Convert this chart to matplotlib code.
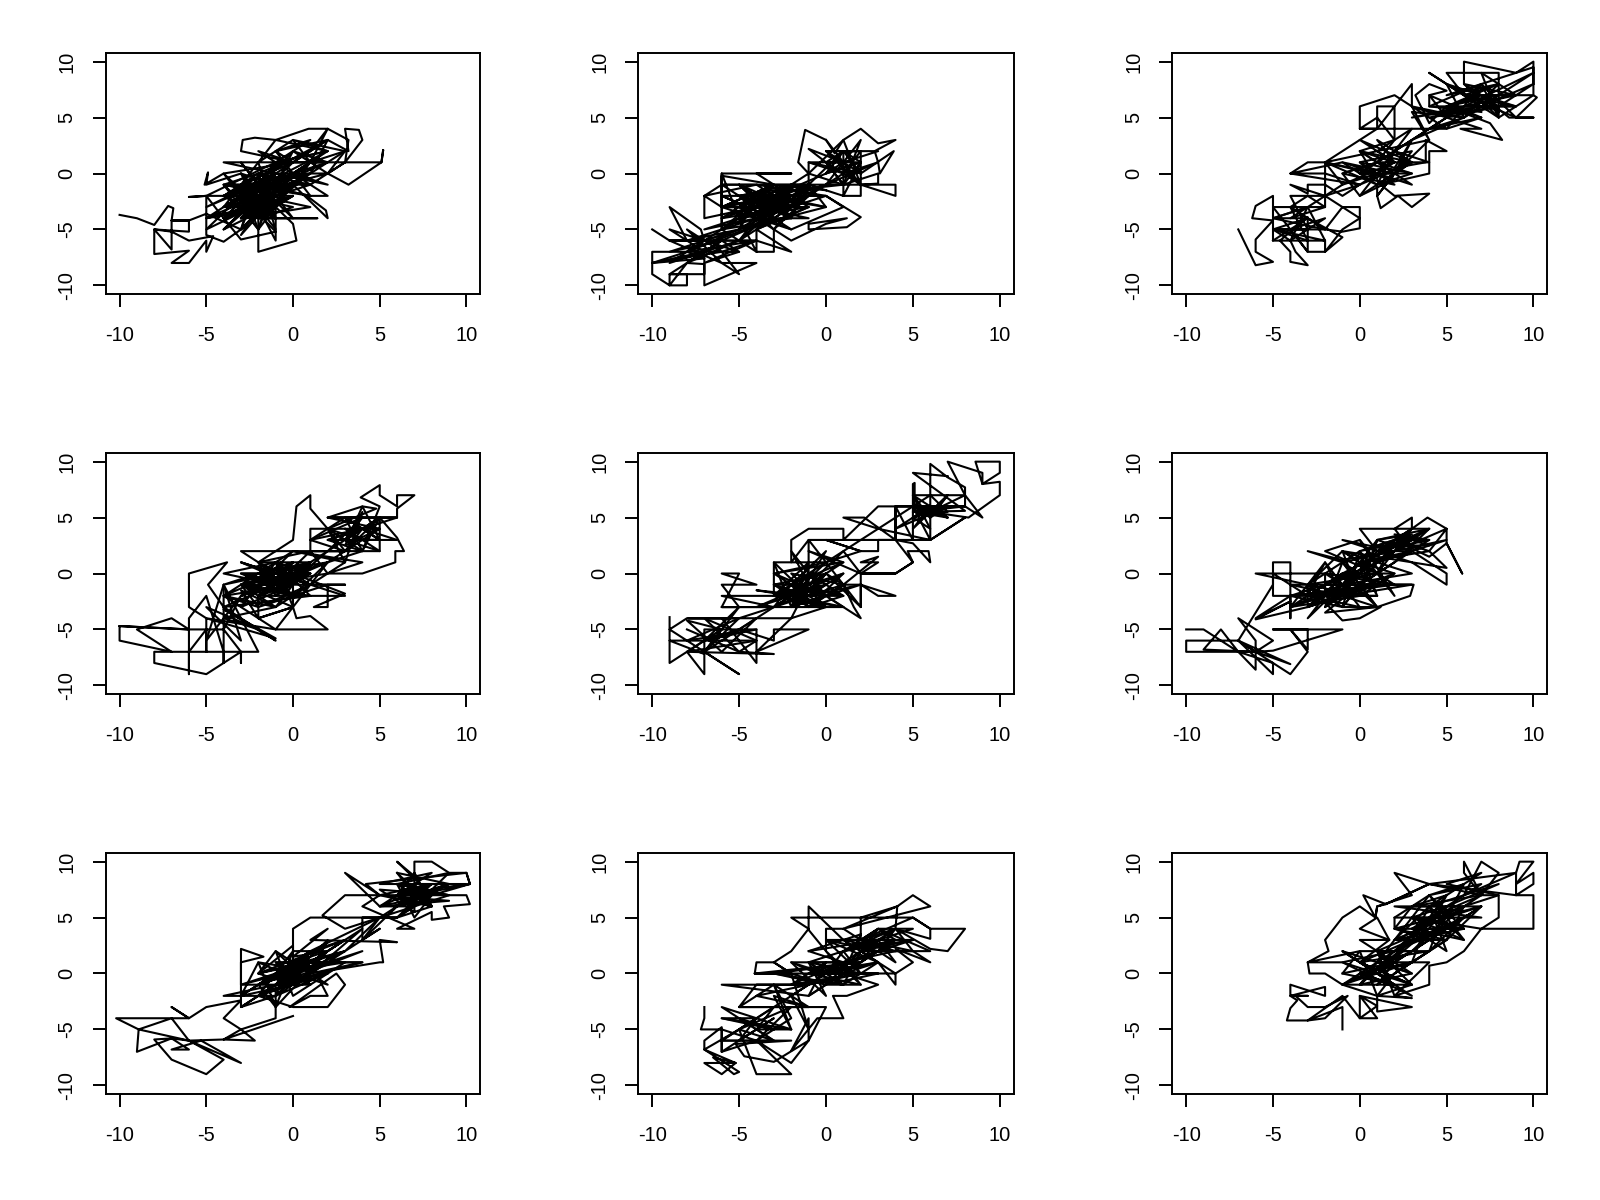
import matplotlib
matplotlib.use('Agg')
import matplotlib.pyplot as plt

plt.rcParams['font.family'] = ['Liberation Sans', 'DejaVu Sans']
plt.rcParams['axes.unicode_minus'] = False

# paths, one (x, y) list per panel
path_1 = [(-10,-3.7),(-9,-4),(-8,-4.6),(-7.2,-2.9),(-6.9,-3.1),(-7,-4.2),(-7,-6.8),(-8,-5),(-8,-7.2),(-6,-6.9),(-7,-8),(-6,-8),(-5,-6),(-5,-7),(-4.6,-5.6),(-6,-6),(-7,-5.2),(-8,-5),(-6,-5.2),(-6,-4.2),(-7,-4.2),(-6,-4.2),(-5,-3.6),(-3,-5),(-4,-6.1),(-5,-5.5),(-5,-2),(-6,-2.1),(-5,-2),(-4,-4),(-2,-1),(-4,-3),(-1,-2),(-3,-5),(-2,0),(-4,-1),(0,-1),(-2,-4),(-3,-1),(-1,-4),(-4,-2),(1,0),(-3,-3),(-2,-5),(-1,-1),(-3,0),(-5,-1),(-4.9,0.1),(-5.1,-1),(-4,0),(-2,-3),(0,0),(-3,-2),(-1,-5.2),(-3,-5.9),(-4,-4),(-2,-2),(0,-2),(-3,-4),(-1,0),(-4,1),(5.1,1),(5.2,2.1),(5.1,1),(3.2,-1),(2,0),(3,1),(1,-1),(2,-2),(0.8,-2),(1.9,-3.3),(2,-4),(0,-1),(-2,-4),(1.4,-4),(-2,-4),(-2,-7),(0.2,-6),(0,-4.5),(-1,-3),(-1,-6),(-2,-3),(-3,-5.5),(-1,-2),(0,-4),(-2,-1),(1,-2),(-3,-1),(0,1),(-2,-2),(1,1),(-1,-1),(-3,-2),(2,0),(-2,0),(1,-1),(-2,2),(0,1),(-3,2),(-2.9,3),(-2.2,3.2),(-1,3),(0.9,4),(2,4),(3.2,3),(3,1),(4,3),(3.8,3.9),(3,4),(3.2,2),(2,3),(1,2),(2,4),(1,1),(3,2),(2,0),(0,2),(2,1),(-1,1),(2,2),(-1,3),(-2,1),(0,3),(1,1),(0,0),(2,-1),(-1,0),(-2,-2),(-3,0),(-1,-3),(-3,-3),(0,-1),(-4,-2),(-2,-4),(-1,-2),(-3,-4)]
tangle_1 = [(-4,-2),(-1,-1),(-3,-4),(0,-2),(-4,-5),(-2,-2),(-5,-4),(-1,-3),(-3,-1),(-2,-5),(-4,-1),(1,-1),(-3,-3),(-1,0),(-5,-3),(-2,-1),(-3,-5),(0,0),(-4,-3),(-2,1),(-1,-4),(-3,0),(-2,-3),(1,1),(-4,-4),(-1,-2),(-5,-5),(-3,-2),(0,-3),(-2,-4),(-4,0),(0,1),(-3,-1),(-1,-5),(-2,0),(-4,-2),(2,1),(-1,-1),(-3,-4),(1,-3),(-2,-2),(-5,-2),(-1,1),(-3,-3),(0,-1),(-4,-4),(-2,-3),(1,0),(-3,-5),(-1,-2),(-4,-1),(-2,-4),(0,-2),(-5,-4),(-2,-1),(-3,1),(-1,-3),(-4,-3),(1,2),(-2,0),(-1,-4),(-3,-2),(2,2),(0,0),(-2,-2),(-4,-5),(-1,-1),(0,2),(-3,-3),(1,1),(-2,-5),(-1,0),(-4,-2),(2,3),(0,1),(-1,2),(1,3),(-1,1),(2,2),(0,3),(3,2),(1,0),(2,3),(-1,2),(1,-2),(-2,-1),(-4,-4)]

path_2 = [(-10,-5),(-9,-6),(-8,-6),(-9,-3),(-7.2,-5),(-7,-6),(-9,-6),(-4,-6),(-8,-7),(-10,-7),(-10,-8),(-8,-7),(-7,-7.6),(-10,-8),(-10,-9),(-9,-10),(-8,-10),(-8,-9),(-9,-9),(-9,-10),(-8,-8),(-7,-8.1),(-7,-9),(-9,-9),(-7,-7),(-7,-10),(-4,-8),(-6,-8),(-5,-9),(-6,-7),(-4,-6),(-2,-7),(-4,-5),(-4,-7),(-3,-7),(-3,-5),(-2,-6),(0,-4.5),(1.2,-4),(-1,-4.5),(-1,-5),(1.2,-4.8),(2,-3.9),(0,-2),(1,-3),(-2,-5),(-5,-3),(-3,-1),(-6,-5),(-2,-2),(-5,-6),(-3,-2),(-6,-3),(-1,-3),(-4,-5),(-2,-1),(-5,-2),(-3,-5),(-1,-1),(-6,-4),(0,-1),(-4,-3),(-7,-4),(-7,-2),(-6,-1),(-4,-1),(-7,-2),(-6,-3),(-3,-3),(-5,-1),(-2,-4),(-4,-2),(0,-3),(-5,-5),(-1,-2),(-5,-4),(-6,0),(-6,-5),(-6,0),(-4,0),(-2,0),(-4,0),(-3,-1),(-6,-0.2),(-6,-3),(-2,-3),(-4,-4),(0,-2),(-5,-2),(1,-1),(-2,-1),(-4,-3),(-1,-4),(-3,-4),(-6,-6),(-8,-8),(-6,-6),(-5,-7),(-7,-6),(-5,-5),(-8,-7),(-6,-5),(-4,-7),(-5,-4),(-3,-2),(-1,0),(-1.6,1),(-1.2,3.9),(0,3),(0.5,1.8),(1,3),(2,4),(3,2.7),(4,3),(2.8,2),(3,1),(3.1,0),(3.9,2),(2,0),(0,2),(2,-1),(0,1),(1,-1),(2,1),(1,2),(2,2),(2,-2),(1,-2),(1,2),(-1,-1),(-1,1),(1,0),(0,-1),(2,-1),(4,-1),(4,-2),(2,-1),(3,-0.9),(3,0),(1,-1),(0,1),(-1,2.2),(1,1),(0,0),(2,1),(1,-2),(-1,-1),(-3,-1),(0,-1.5)]
tangle_2 = [(-6,-2),(-3,-4),(-5,-1),(-2,-3),(-6,-4),(-4,-2),(-5,-5),(-2,-2),(-6,-3),(-3,-1),(-5,-4),(-1,-3),(-4,-5),(-3,-2),(-6,-5),(-2,-4),(-5,-2),(-1,-1),(-4,-3),(-6,-1),(-2,-1),(-5,-3),(-3,-5),(-1,-2),(-5,-6),(-3,-3),(-7,-5),(-4,-4),(-8,-6),(-5,-5),(-9,-7),(-6,-6),(-8,-8),(-5,-6),(-9,-8),(-7,-6),(-9,-5),(-7,-7),(-10,-8),(-6,-7),(-8,-5),(-6,-8),(-9,-6),(-4,-6),(-7,-8),(-5,-7),(-8,-7),(-3,-4),(-6,-2),(-2,-2),(-4,-5),(-1,-1),(-3,-3),(-5,-2),(-2,-3),(-4,-1),(0,-2),(-3,-2),(-5,-4),(-1,-2),(-4,-3),(-2,-5),(-6,-3),(-3,-1),(-1,-3),(-5,-3),(-2,-1),(-4,-4),(0,-1),(-3,-4),(-5,-1),(-2,-4),(-1,-1),(0,-3),(-3,-2),(0,0),(1,2),(0,1),(2,1),(0,0),(1,2),(2,0),(-1,1),(1,1),(3,2),(0,2),(2,2),(1,0),(3,1),(0,-1),(2,3),(1,-1),(-1,0),(1,3),(2,-1),(0,3)]

path_3 = [(-7,-5),(-6,-8.2),(-5,-7.9),(-6,-7),(-6,-5.9),(-5,-4.2),(-6.2,-4),(-6,-2.9),(-5,-2),(-5,-6),(-2,-6),(-2,-7),(-3,-7),(-3,-3.9),(-4.6,-6),(-4,-7),(-4,-7.9),(-3,-8.2),(-3.7,-7),(-4,-6),(-5,-5),(-2,-5),(-1,-5.2),(0,-4.9),(0,-3),(-1,-3),(0,-4),(-1,-5),(-2,-7),(-1,-5.7),(-3,-4),(-5,-4),(-3,-3),(-2,-6),(-5,-5),(-3,-5),(-4,-2),(-2,-2),(-2,-3),(-3,-2),(-4,-3),(-2,-5),(-1,-3),(-2,-2),(0,-1),(-2,0),(-4,0),(-3,1),(-2,1),(-2,-2),(-4,-1),(-3,-1.8),(-3,-1),(-2,-1),(-1,-2),(0,-1),(-4,0),(-1,1),(1,-1),(-2,1),(2,-0.5),(0,-2),(-1,0),(1,1),(0,0),(2,0),(0,2),(1,-0.5),(0,1),(3,0),(1,-1),(1,-2),(1.2,-3.1),(2.2,-2),(3,-3),(4,-1.8),(2,-2),(1.2,-1),(4,0),(4,2),(5,2),(3.8,3),(3.8,1),(2,0.5),(3,3),(1,1),(2,3),(0,2),(3,1),(0,3),(2,1),(1,2),(-2,1),(0,3),(1,4),(0,4),(0,6),(2,7),(3,6),(3,8),(2,6),(1,6),(1,4),(2,6),(2,3),(1,5),(0,4),(5,4),(3,6),(4,3),(3,5.5),(6,5),(3,6),(7,4),(5.8,4),(8.2,3),(7.5,4.5),(5,6),(4,4.5),(3.2,7),(4,8),(5,7.4),(4,7),(4,6),(8,6),(6,7),(4,9),(6,7),(5,9),(8,9),(8,5),(6,8),(6,10),(9,9),(10,10),(10,8),(10,7),(10.2,6.8),(9,5),(10,5),(8.6,5),(7,7),(8,5.5),(5,8),(9,6),(6,6),(10,9),(7,6),(9,8),(6,5),(8,8),(5,7),(10,9.5),(10,8)]
tangle_3 = [(-5,-6),(-3,-4),(-5,-5),(-3,-6),(-4,-3),(-2,-5),(-5,-4),(-3,-3),(-4,-6),(-2,-4),(-4,-5),(-3,-7),(-5,-3),(-2,-3),(-4,-4),(-1,-1),(-2,1),(1,0),(-1,-1),(2,1),(0,-1),(3,1),(1,-1),(2,2),(0,0),(3,0),(1,1),(-1,0),(2,-1),(0,1),(3,2),(1,-2),(2,0),(-1,1),(1,0),(3,-1),(0,2),(2,1),(1,3),(3,1),(0,-2),(2,2),(4,1),(1,1),(3,3),(2,0),(4,3),(1,2),(3,4),(2,2),(5,5),(3,3),(6,5),(4,4),(7,5),(5,4),(6,6),(3,5),(7,6),(4,5),(8,6),(5,5),(4,7),(7,5),(5,6),(8,7),(6,5),(5,8),(8,5),(7,8),(6,6),(9,7),(7,7),(5,6),(8,8),(6,7),(9,6),(7,6),(10,8),(8,6),(6,8),(9,7),(7,9),(8,5),(10,7),(6,7),(9,5),(7,8),(4,6),(7,5.5)]

path_4 = [(-10,-4.7),(-10,-6),(-7,-7),(-8,-7),(-8,-8),(-5,-9),(-4,-8),(-3,-7),(-3,-8),(-3,-7),(-4,-5),(-6,-5),(-10,-4.7),(-6,-5),(-7,-4),(-9,-5),(-8,-6),(-7,-7),(-6,-7),(-6,-9),(-6,-4),(-5,-2),(-4,-7),(-4,-2),(-4,-8),(-4,-1),(-2,-7),(-6,-7),(-5,-5),(-5,-7),(-5,-4),(-6,-3),(-6,0),(-3.8,1),(-4.9,-1),(-4,-3),(-1,-6),(-4,-3.2),(-1,-5.8),(-5,-4),(-1,-5),(-4,-2),(-2,-3),(-3,-1),(0,-3),(-2,-4),(-3,-1.5),(-1,-3),(-4,-2),(0,-1),(-3,0),(0,0),(-2,-2),(1,0),(-3,-1),(0,-2),(-2,0),(1,1),(-1,-1),(-4,0),(-1,1),(1,-1),(-3,1),(0,-0.5),(-2,1),(1,2),(-3,2),(-2,1),(-1,2),(0,3),(0.2,6),(1,7),(1,5.8),(2,4),(1,4),(1,2),(2,0),(3,1),(0,2),(4,1),(2,0),(4,0),(5.9,1),(5.9,2),(6.4,2),(6,3.2),(5,5),(5,2),(1,2),(3,2),(1,3),(4,5),(2,5),(4,6),(4.8,5.8),(2,4),(3,1),(4,5.5),(3,3),(5,3),(3,5),(6,5),(2,3),(4,2),(5,6),(3.9,6.8),(5,7.9),(5,7),(6,6),(6,7),(7,7),(6,5.8),(6,5),(2,5),(5,4),(2,1),(0,-2),(3,-2),(1,-1),(3,-1),(2,-1),(2,-3),(1.2,-3),(3,-1.8),(0,0),(0,-3),(0.2,-4),(1,-3.8),(2,-5),(-1,-5),(0,-3),(-2,-4),(-2,-2),(1,-2),(-4,-3),(-1,-1),(-3,-2),(1,0),(-1,-2)]
tangle_4 = [(-4,-5),(-3,-2),(-5,-6),(-4,-1),(-3,-6),(-5,-3),(-2,-5),(-4,-4),(-1,-3),(-3,-1),(0,-1),(-2,-2),(1,0),(-3,0),(0,-2),(-2,1),(-1,-2),(1,1),(-3,-1),(0,0),(-2,-1),(2,0),(-1,-3),(1,1),(-3,-2),(0,1),(-1,-1),(2,1),(-2,0),(0,-1),(-3,1),(1,-1),(-1,0),(-4,-1),(0,1),(-2,-2),(1,0),(-1,1),(-3,-3),(0,-1),(-2,1),(1,1),(-1,-2),(2,2),(0,0),(-3,-1),(1,-2),(-1,1),(0,-3),(2,1),(-2,-1),(0,2),(-4,-2),(-1,0),(1,-1),(-2,-3),(2,-1),(-1,-1),(1,2),(3,2),(2,4),(4,2),(3,5),(5,3),(2,3),(4,4),(3,2),(5,5),(2,2),(4,5),(3,3),(5,2),(3,4),(4,3),(2,4),(5,4),(3,2.5),(4,6),(5,3),(3,5),(1,3),(4,4),(6,3),(3,3),(5,5),(4,2),(2,1)]

path_5 = [(-9,-3.9),(-9,-8),(-8,-7),(-7,-9),(-7,-7),(-5,-9),(-7,-7),(-9,-5),(-8,-4),(-7.9,-4),(-6,-4),(-4,-8),(-4,-5),(-7,-5),(-7,-7.2),(-9,-6),(-4,-6),(-5,-7),(-3,-7.2),(-8,-7),(-6,-5),(-8,-4.2),(-6,-7),(-4,-4),(-7,-7),(-5,-3),(-7,-6),(-5,-5),(-3,-6),(-3,-5),(-1,-5),(-4,-7),(-2,-4),(-7.9,-4),(-5,-4),(-3,-3),(-6,-3),(-5,0),(-6,0),(-4,-1),(-6,-1),(-5,-3),(-6,-3),(1,-3),(-2,-2),(-4,-1.5),(-1,-2),(-3,-1),(0,-3),(-2,-4),(-1,-1),(-3,-3),(0,-1),(-2,-3),(-3,1),(-3,-2),(-1,0),(-2,-2),(1,0),(-1,-3),(1,-1),(0,-2),(2,-4),(1.6,-3),(1,-1),(0,0),(2,-3),(-1,3),(-2,1),(-2,3),(-1,4),(1,4),(1,3),(-1,3),(-1,-1),(1,2),(2,0),(-1,2),(1,1),(-3,0),(0,1),(2,2),(0,3),(2,2),(3,2),(3,3),(6,3),(8,5),(6,3),(3,4),(1,5),(2.2,5),(4,3),(1,3),(3,6),(5,6),(8,6),(4,6),(4,3),(5,2.7),(6,1),(5.9,2),(4.7,2),(5,1),(4,0),(2,0),(3,1),(2,1),(3,1.5),(1,-1),(2,-1),(3,-2),(4,-2),(2,-1),(2,-3),(2,0),(4,0),(5,1),(4,3),(4,6),(5,3),(5,8),(5.1,8.1),(5.1,5.5),(7,5),(5,6),(6,3),(6,7),(6,9.8),(7,8.6),(8,7.7),(8,6),(9,5),(8,7),(7,10),(9,9),(9,8),(8.6,10),(10,10),(10,9),(9,8),(10,8.2),(10,7),(8.2,5),(6,5.5),(7,7),(6,5),(5,7),(7,5),(6,6),(5,5.5),(8,5.6),(5,9),(7,8.7)]
tangle_5 = [(-8,-5),(-5,-7),(-7,-4),(-4,-6),(-8,-7),(-6,-5),(-7,-7),(-5,-4),(-8,-6),(-4,-5),(-7,-6),(-5,-5),(-3,-3),(-6,-2),(-2,-2),(-4,-3),(-1,-1),(-3,-2),(0,-3),(-2,-1),(-3,-3),(-1,-2),(-3,0),(0,-2),(-2,-3),(0,0),(-3,-1),(-1,-3),(1,-2),(-2,-2),(0,-1),(-3,-2),(-1,1),(-2,-3),(1,0),(-1,-1),(-3,-1),(0,-3),(-2,0),(1,-1),(-1,-2),(-3,1),(0,1),(-2,-2),(-1,0),(-3,-2),(1,-3),(-1,-1),(-2,2),(0,-2),(-1,-3),(-2,-1),(1,1),(-3,-3),(0,0),(-1,-2),(2,-1),(-2,-3),(0,2),(-2,-1),(1,-2),(-1,0),(5,6),(6,5),(7,6),(5,5),(6,6),(8,6),(5,5.5),(7,5.5),(6,7),(5,6),(7,5),(6,5.5),(8,7),(5,7),(6,4),(5,5),(7,6),(4,4),(6,6),(5,4),(7,7),(6,5)]

path_6 = [(-10,-5),(-9,-5),(-7,-7),(-6,-8.6),(-6,-6),(-7,-4),(-5,-6),(-6,-7),(-10,-7),(-10,-6),(-7,-6),(-5,-9),(-5,-8),(-7,-7),(-8,-5),(-9,-6.8),(-6,-7),(-4,-8.1),(-7,-6),(-5,-8),(-4,-9),(-3,-7),(-4,-5),(-3,-6.8),(-3,-5),(-5,-5),(-1,-5),(-5,-6.9),(-6,-7),(-7,-6),(-5,-1),(-5,1),(-4,1),(-4,-4),(-4,-2),(-6,-4),(-4,-2.5),(-6,-4.1),(-3,-3),(-3,-1),(-6,0),(-2,0),(-2,-2),(-5,-2),(-5,0),(-3,-2),(-2,1),(-4,-3),(-1,-1),(-3,-4),(-1,0),(-3,-2),(1,-1),(-4,-2),(0,0),(-2,-3),(1,0),(-3,-1),(-1,-4.2),(0,-4),(1.2,-3),(-1,-3),(0,-1),(-2,-3.5),(1,-3),(-1,-2),(3,-1),(0,-1),(3.1,-1),(2.9,-2),(1,-3),(-1,1),(-3,2),(-1,1.2),(2,2),(-1,3),(3,1),(-1,2),(3,0),(-1,-1),(1,3),(0,-2),(2,0),(-1,0),(2,-1),(0,1),(1,-2),(0,2),(2,-2),(0,3),(1,1),(3,2),(1,2),(0,4),(4,4),(2,2),(5,4),(3.9,5),(3,4),(3,5),(2,4),(3,2),(5,0),(5,-1),(3,1),(5,0.5),(4,2),(5,4),(5,2.7),(5.9,0),(5,2.7),(4,1.5),(2,3),(4,3),(2,3.5),(4,2.5),(1,2.5),(3,3.5),(1,3),(0.5,1)]
tangle_6 = [(-4,-2),(-1,-3),(-3,-1),(0,-2),(-4,-3),(-1,-1),(-3,-3),(0,0),(-2,-2),(1,-2),(-3,-2),(0,-3),(-2,1),(-1,-2),(-4,-1),(1,-1),(-3,-3),(0,1),(-2,-3),(-1,1),(1,-3),(-1,0),(-3,-2),(2,-1),(-2,0),(0,-2),(-1,2),(-3,-1),(0,2),(-1,-3),(1,1),(-2,-1),(0,-1),(2,1),(-1,-2),(1,2),(-2,-3),(0,0),(2,2),(-1,1),(1,-1),(-3,-3),(2,0),(0,1),(-1,2),(1,0),(-2,2),(0,3),(1,1),(3,3),(0,2),(2,3),(1,0),(3,4),(1,2),(4,3),(2,1),(4,4),(1,3),(3,2),(0,1),(4,2),(2,3),(3,4),(1,1),(5,3),(2,2),(3,3),(1,2),(4,4),(-1,0),(-4,-3),(-2,-2)]

path_7 = [(0,-3.8),(-4,-5.9),(-6,-6),(-3,-8),(-5.3,-6),(-7,-6.8),(-6,-6.8),(-7,-5.8),(-9,-7),(-8.9,-5),(-7,-4),(-10.2,-4),(-8.9,-5),(-6,-6),(-4,-7.7),(-5,-9),(-7,-7.7),(-8,-5.9),(-7,-5.8),(-6,-6),(-7,-4),(-6,-4),(-7,-3),(-6,-4),(-5,-3),(-3,-2.4),(-4,-4),(-3,-5),(-2.2,-6),(-4,-5.9),(-3,-5),(-1,-4),(-1,-1),(-4,-2),(-1,-2),(-3,-3),(-3,-1),(-3,2.2),(-1.7,1.5),(-3,1),(-3,-1),(0,-1),(-3,-2),(-2,1),(-1,-3),(-2,-1),(1,1),(-3,-3),(0,0),(-1,-1),(1,-1),(-1,2),(-2,0),(0,2.5),(0,-1),(-1,1),(2,1),(-1,-2),(2,0),(-2,-2),(0,-3),(2,-3),(3,-1),(2.5,0),(-0.2,-3),(1,-2),(2,-2),(1.5,-0.5),(2,-1),(0,0),(1,2),(-1,0),(3,1),(0,1),(4,1),(1,0),(5,1),(5.2,1),(5,3),(6,2.8),(1,3),(2,4),(0,1.5),(2,2),(0,2),(0,4),(1,5),(4,5),(6,5),(4,5),(4,3),(5,5),(3,4),(1.7,5.2),(3,7),(5,7),(4,6),(7,4),(6,4),(8,5.5),(8,4.8),(9,5),(8.7,6),(10.2,6.2),(10,7),(8,7),(6,5),(8,6),(5,7),(9,6.5),(5,6),(3,9),(5,7),(4.2,8),(10,9),(10.2,8),(8,7),(6,10),(7,8.7),(7,10),(8,10),(9,9),(10,9),(10.2,8),(7,7),(6,9),(9,8),(6,6),(8,8),(6,7),(8,6),(7,9),(7,5.5),(5,7.5),(9,7),(6,8)]
tangle_7 = [(-1,-2),(1,1),(-2,-1),(2,1),(-1,0),(0,-1),(-2,0),(3,2),(-1,-1),(1,2),(-3,-2),(0,1),(-1,-3),(2,2),(-2,-2),(1,0),(-1,2),(0,-2),(3,1),(-1,1),(1,-1),(-2,1),(2,0),(-1,-1),(4,2),(0,0),(-2,-1),(1,2),(0,-1),(3,2),(-1,0),(2,1),(-3,-1),(1,1),(-1,-2),(0,2),(-2,-2),(2,2),(0,1),(-1,-1),(4,1),(1,1),(-2,0),(3,3),(0,0),(2,3),(1,0),(4,4),(2,2),(3,3),(1,2),(5,5),(3,2),(5,4),(4,3),(6,6),(5,5),(7,6),(6,7),(8,7),(5,6),(7,8),(6,6),(9,8),(7,7),(5,7),(8,8),(6,5),(7,6),(9,7),(6,8),(8,6),(7,9),(6,7),(8,9),(5,8),(9,8),(7,7),(6,6),(8,7),(7,5),(6,8),(9,9),(7,6),(5,6),(8,8),(6,7),(10,8),(7,8),(8,6),(6,9)]

path_8 = [(-7,-3),(-7,-4),(-7.2,-5),(-6,-5),(-6,-7),(-6,-6),(-6,-4.8),(-7,-6),(-7,-6.8),(-5,-8.8),(-5.3,-9),(-6.5,-7.5),(-5.2,-8),(-7,-8),(-6,-9),(-5.2,-8),(-7,-6.8),(-5,-5),(-4,-9),(-2,-9),(-4,-6),(-2,-8),(-1,-6),(-3,-7.9),(-4.7,-7.4),(-5.2,-6.3),(-2,-6),(-6,-6),(-4,-4),(-6,-4),(-2,-5),(-6,-3),(-3,-6),(-5,-5),(-3,-3),(-5,-3),(0,-3),(-1,-6),(-1,-4),(-2,-6.9),(-0.5,-4),(0,-4),(1,-4),(0.4,-2),(1.2,-2),(3,-1),(1,0),(-1,-2),(-6,-1),(-1,-1),(-4,-1),(-5,-3),(-3,-1),(-2,-5),(-3,-2),(-1,-3),(-4,-2),(2,0),(-2,-1),(1,1),(-2,1),(0,-2),(-1,1),(1,-1),(-3,0),(2,1),(-4.1,0),(-4,1),(-3,1),(-2,0),(-4.1,0),(-2,0),(-3,1),(-2,2),(-1,4),(-2,5),(5,5),(6,4),(8,4),(7,2),(6,2.2),(4,4),(5,2),(6,1),(4,2.2),(5,1),(4,0),(4,-1),(3,1),(0,0),(3,0),(0,-1),(2,-1),(-1,0),(4,0),(1,3),(-1,6),(-1,3.9),(0,2),(0,4),(1,4),(2,3),(2,5),(4.1,6),(5,7),(6,6),(1,4),(4.1,6),(4,4),(6,3.1),(6,4),(5,5),(2,3),(3,4),(1,2),(4,3),(0,3),(3,2),(1,1),(4,2),(2,2),(5,3),(1,3),(3,1),(1,0),(2,3.5),(-1,2)]
tangle_8 = [(-6,-5),(-4,-6),(-6,-7),(-3,-4),(-5,-6),(-4,-4),(-6,-6),(-3,-6),(-5,-4),(-3,-5),(-6,-4),(-2,-5),(-4,-5),(-3,-3),(-5,-5),(-2,-3),(-4,-6),(-2,-4),(-3,-1),(-1,-3),(-3,-3),(-1,-1),(-2,-2),(-1,-5),(-2,0),(0,-1),(-3,0),(1,0),(-1,-2),(0,1),(-2,-1),(2,0),(-1,1),(1,-1),(-2,1),(0,0),(3,1),(-1,0),(1,1),(-1,-1),(2,2),(0,-1),(2,1),(-1,1),(1,2),(0,0),(3,2),(1,0),(0,2),(2,-1),(1,1),(-1,2),(3,3),(1,2),(2,0),(0,3),(3,1),(1,-1),(2,2),(4,3),(2,1),(3,3),(1,3),(4,2),(2,3),(4,4),(1,2),(5,3),(3,2),(4,4),(2,2),(3,4),(5,4),(3,3),(4,1),(3,2),(5,2),(2,3),(4,3),(3,4),(6,2),(2,2)]

path_9 = [(-1,-5),(-1,-3),(-3,-4.2),(-2,-4),(-0.7,-2),(-2,-3),(-3,-3),(-3.7,-2),(-3,-2),(-4,-2),(-4,-1),(-2,-2),(-2,-1.2),(-4,-2),(-3.6,-2.4),(-4,-3.1),(-4.2,-4.2),(-3,-4.2),(-1,-2),(0,-4),(0,-2),(1,-4),(0,-4),(1,-2.9),(0,-2),(3,-3),(1,-3.4),(1,-2),(-1,-1),(-2,0),(-2.9,0),(-3,1),(-1.8,2),(-2,3),(-1,5),(0,6),(0.9,5),(0.2,7),(1.5,6.2),(1,6),(0.9,5),(1,6),(3,7),(2,9),(4,8),(1.5,6.2),(4,8),(7,7),(3,6),(2,4),(2,5),(7,5),(2,6),(3,6),(7,6),(2,4),(6,4),(3,5),(7,4),(10,4),(10,7),(9,7),(9,9),(9.2,10),(10,10),(9,8),(10,9),(10,8),(9,7),(4,8),(9,9),(6,7),(7,10),(8,9),(7,7),(6,9),(6,10),(7,7),(8,7),(8,5),(7,4),(6,2),(5,1),(4,0.7),(4,-1),(2,-2),(3,-2.2),(1,-2),(3,-1),(1,0),(-1,1),(-3,1),(0,2),(-1,0),(2,1),(-1,-1),(3,1),(0,0),(2,-1),(-1,2),(3,0),(0,3),(1.7,3),(0,4),(1,5),(1.7,3),(0,1),(3,3),(1,0),(4,4),(1,2),(4,2),(2,0),(5,3),(2,3),(5,5),(3,2),(6,6),(3,4),(5,2),(4,6),(6,3),(3,5),(5,6),(2,2),(6,5),(4,3),(7,6),(5,4),(2,3),(4,7),(6,4),(3,3),(5,7)]
tangle_9 = [(-1,0),(2,-1),(0,1),(3,-1),(-1,-1),(1,1),(3,0),(0,-1),(2,2),(-1,1),(3,-2),(1,0),(-1,2),(2,-1),(0,0),(3,1),(1,-1),(2,1),(-1,-1),(3,2),(0,2),(1,-2),(2,0),(4,2),(0,1),(3,-1),(1,2),(2,-2),(4,1),(1,1),(3,3),(0,-1),(2,3),(4,3),(1,0),(3,2),(5,4),(2,2),(4,5),(3,1),(5,3),(2,4),(4,3),(3,5),(5,5),(2,3),(4,6),(3,3),(6,5),(4,2),(5,6),(3,4),(6,4),(4,4),(5,7),(3,6),(6,6),(4,5),(7,7),(5,5),(6,8),(4,7),(7,8),(5,6),(8,8),(6,7),(4,6),(7,9),(5,8),(8,7),(6,6),(5,3),(7,6),(3,4),(6,3),(4,7),(2,5)]

paths = [path_1, path_2, path_3, path_4, path_5, path_6, path_7, path_8, path_9]
tangles = [tangle_1, tangle_2, tangle_3, tangle_4, tangle_5, tangle_6, tangle_7, tangle_8, tangle_9]
ticks = [-10, -5, 0, 5, 10]

# box edges in pixels of the 1600x1200 picture
lefts = [105.7, 638.3, 1172.3]
rights = [480.3, 1013.7, 1547.3]
tops = [52.7, 452.7, 852.7]
height = 241.6

fig = plt.figure(figsize=(16, 12), dpi=100)

for i, path in enumerate(paths):
    row, col = divmod(i, 3)
    l = lefts[col] / 1600
    w = (rights[col] - lefts[col]) / 1600
    b = 1 - (tops[row] + height) / 1200
    ax = fig.add_axes([l, b, w, height / 1200])
    for part in (path, tangles[i]):
        xs = [p[0] for p in part]
        ys = [p[1] for p in part]
        ax.plot(xs, ys, color='black', lw=1.5)
    ax.set_xlim(-10.8, 10.8)
    ax.set_ylim(-10.8, 10.8)
    ax.set_xticks(ticks)
    ax.set_yticks(ticks)
    ax.set_xticklabels([str(t) for t in ticks])
    ax.set_yticklabels([str(t) for t in ticks], rotation=90, va='center')
    ax.tick_params(axis='x', length=9.5, width=1.4, pad=13, labelsize=14.5)
    ax.tick_params(axis='y', length=9.5, width=1.4, pad=11.5, labelsize=14.5)
    for s in ax.spines.values():
        s.set_linewidth(1.4)

fig.savefig('out.png', dpi=100)
